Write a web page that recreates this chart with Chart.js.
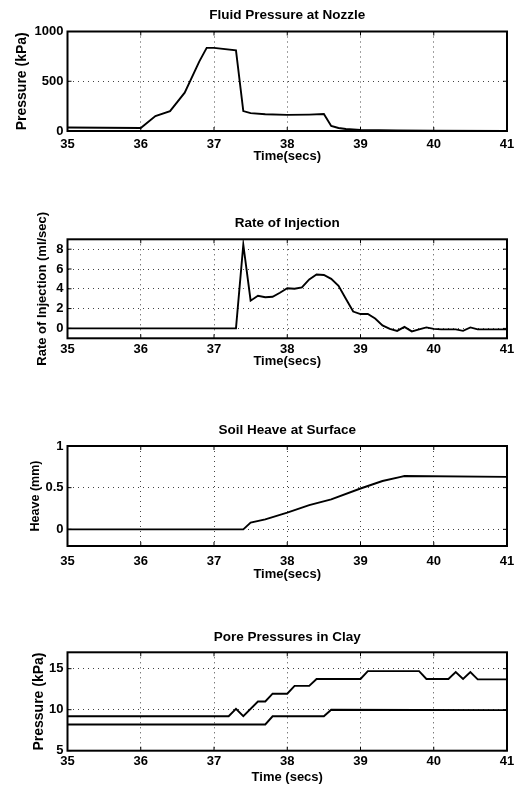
<!DOCTYPE html>
<html><head><meta charset="utf-8">
<script src="https://cdn.jsdelivr.net/npm/chart.js@4/dist/chart.umd.min.js"></script>
<style>
html,body{margin:0;padding:0;background:#fff;width:526px;height:788px;overflow:hidden;}
.p{position:absolute;left:0;width:526px;}
canvas{display:block;}
</style></head><body>
<div class="p" style="top:0px"><canvas id="c1" width="526" height="165"></canvas></div>
<div class="p" style="top:200px"><canvas id="c2" width="526" height="169"></canvas></div>
<div class="p" style="top:405px"><canvas id="c3" width="526" height="177"></canvas></div>
<div class="p" style="top:610px"><canvas id="c4" width="526" height="176"></canvas></div>
<script>
// ---- data ----
const timeTicks = [35, 36, 37, 38, 39, 40, 41];

const nozzleTitle = "Fluid Pressure at Nozzle";
const nozzleYLabel = "Pressure (kPa)";
const nozzleXLabel = "Time(secs)";
const nozzleYTicks = [0, 500, 1000];
const nozzleTime = [35.0, 35.5, 36.0, 36.2, 36.4, 36.6, 36.8, 36.9, 37.0, 37.3, 37.4, 37.5, 37.7, 38.0, 38.3, 38.5, 38.6, 38.7, 38.8, 39.0, 39.5, 40.0, 41.0];
const nozzlePressure = [35, 33, 30, 150, 200, 385, 700, 835, 835, 810, 200, 180, 168, 162, 165, 170, 50, 30, 20, 10, 5, 2, 0];

const injTitle = "Rate of Injection";
const injYLabel = "Rate of Injection (ml/sec)";
const injXLabel = "Time(secs)";
const injYTicks = [0, 2, 4, 6, 8];
const injTime = [35.0, 37.3, 37.4, 37.5, 37.6, 37.7, 37.8, 37.9, 38.0, 38.1, 38.2, 38.3, 38.4, 38.5, 38.6, 38.7, 38.8, 38.9, 39.0, 39.1, 39.2, 39.3, 39.4, 39.5, 39.6, 39.7, 39.8, 39.9, 40.0, 40.1, 40.2, 40.3, 40.4, 40.5, 40.6, 41.0];
const injRate = [0, 0, 8.45, 2.8, 3.3, 3.15, 3.2, 3.6, 4.05, 4.0, 4.15, 4.95, 5.45, 5.4, 5.0, 4.3, 3.0, 1.7, 1.45, 1.45, 1.0, 0.3, -0.05, -0.25, 0.15, -0.3, -0.1, 0.1, -0.05, -0.1, -0.1, -0.1, -0.25, 0.1, -0.1, -0.1];

const heaveTitle = "Soil Heave at Surface";
const heaveYLabel = "Heave (mm)";
const heaveXLabel = "Time(secs)";
const heaveYTicks = [0, 0.5, 1];
const heaveTime = [35.0, 37.0, 37.4, 37.5, 37.7, 38.0, 38.3, 38.6, 39.0, 39.3, 39.55, 39.6, 41.0];
const heaveMm = [0, 0, 0, 0.08, 0.12, 0.2, 0.29, 0.36, 0.49, 0.58, 0.63, 0.64, 0.63];

const poreTitle = "Pore Pressures in Clay";
const poreYLabel = "Pressure (kPa)";
const poreXLabel = "Time (secs)";
const poreYTicks = [5, 10, 15];
const poreUpperTime = [35.0, 37.2, 37.3, 37.4, 37.6, 37.7, 37.8, 38.0, 38.1, 38.3, 38.4, 39.0, 39.1, 39.8, 39.9, 40.2, 40.3, 40.4, 40.5, 40.6, 41.0];
const poreUpper = [9.2, 9.2, 10.1, 9.2, 11.0, 11.0, 11.95, 11.95, 12.9, 12.9, 13.75, 13.75, 14.7, 14.7, 13.75, 13.75, 14.6, 13.75, 14.6, 13.7, 13.7];
const poreLowerTime = [35.0, 37.7, 37.8, 38.5, 38.6, 41.0];
const poreLower = [8.2, 8.2, 9.2, 9.2, 10.0, 9.95];

// ---- helpers ----
const FONT = "'Liberation Sans', Arial, Helvetica, sans-serif";
const pts = (xs, ys) => xs.map((x, i) => ({x: x, y: ys[i]}));

const frame = {
  id: 'frame',
  afterDatasetsDraw(chart) {
    const {ctx, chartArea: a, scales} = chart;
    ctx.save();
    ctx.strokeStyle = '#000';
    ctx.lineWidth = 1;
    ctx.setLineDash([]);
    ctx.beginPath();
    const tl = 4;
    scales.x.ticks.forEach(t => {
      const px = scales.x.getPixelForValue(t.value);
      ctx.moveTo(px, a.bottom); ctx.lineTo(px, a.bottom - tl);
      ctx.moveTo(px, a.top); ctx.lineTo(px, a.top + tl);
    });
    scales.y.ticks.forEach(t => {
      const py = scales.y.getPixelForValue(t.value);
      ctx.moveTo(a.left, py); ctx.lineTo(a.left + tl, py);
      ctx.moveTo(a.right, py); ctx.lineTo(a.right - tl, py);
    });
    ctx.stroke();
    ctx.lineWidth = 2;
    ctx.strokeRect(a.left, a.top, a.right - a.left, a.bottom - a.top);
    ctx.restore();
  }
};
const panelTitle = {
  id: 'panelTitle',
  afterDraw(chart, args, opts) {
    const {ctx, chartArea: a} = chart;
    ctx.save();
    ctx.fillStyle = '#000';
    ctx.font = 'bold 13.5px ' + FONT;
    ctx.textAlign = 'center';
    ctx.textBaseline = 'middle';
    ctx.fillText(opts.text, (a.left + a.right) / 2, a.top - opts.gap);
    ctx.restore();
  }
};

function makePanel(id, cfg) {
  const tickFont = {family: FONT, size: 13, weight: 'bold', lineHeight: 1};
  const xTitleFont = {family: FONT, size: 13, weight: 'bold', lineHeight: 1.2};
  const yTitleFont = {family: FONT, size: cfg.yTitleSize, weight: 'bold', lineHeight: 1.2};
  new Chart(document.getElementById(id), {
    type: 'line',
    data: {
      datasets: cfg.series.map(s => ({
        data: s,
        borderColor: '#000',
        borderWidth: 1.9,
        pointRadius: 0,
        tension: 0,
        fill: false
      }))
    },
    plugins: [frame, panelTitle],
    options: {
      responsive: false,
      animation: false,
      devicePixelRatio: 1,
      layout: {padding: {left: 0, right: 19, top: cfg.padTop, bottom: cfg.padBottom}},
      plugins: {
        legend: {display: false},
        tooltip: {enabled: false},
        panelTitle: {text: cfg.title, gap: cfg.titleGap}
      },
      scales: {
        x: {
          type: 'linear',
          min: 35, max: 41,
          afterBuildTicks: s => { s.ticks = timeTicks.map(v => ({value: v})); },
          afterFit: s => { s.height = cfg.xh; },
          ticks: {font: tickFont, color: '#000', padding: cfg.xTickPad, maxRotation: 0, autoSkip: false, callback: v => String(v)},
          grid: {color: '#444', lineWidth: 1, drawTicks: false},
          border: {display: false, dash: [1, 4]},
          title: {display: true, text: cfg.xLabel, font: xTitleFont, color: '#000', padding: {top: 0, bottom: 0}}
        },
        y: {
          type: 'linear',
          min: cfg.ymin, max: cfg.ymax,
          afterBuildTicks: s => { s.ticks = cfg.yTicks.map(v => ({value: v})); },
          afterFit: s => { s.width = 67.5; },
          ticks: {font: tickFont, color: '#000', padding: 4, callback: v => String(v)},
          grid: {color: '#444', lineWidth: 1, drawTicks: false},
          border: {display: false, dash: [1, 4]},
          title: {display: true, text: cfg.yLabel, font: yTitleFont, color: '#000', padding: {top: cfg.yTitleX - cfg.yTitleSize * 0.6, bottom: 0}}
        }
      }
    }
  });
}

makePanel('c1', {
  title: nozzleTitle, xLabel: nozzleXLabel, yLabel: nozzleYLabel, yTicks: nozzleYTicks,
  ymin: 0, ymax: 1000, series: [pts(nozzleTime, nozzlePressure)],
  padTop: 31.5, padBottom: 0.5, xh: 33.5, xTickPad: 7, yTitleX: 22, yTitleSize: 14, titleGap: 16.5
});
makePanel('c2', {
  title: injTitle, xLabel: injXLabel, yLabel: injYLabel, yTicks: injYTicks,
  ymin: -1, ymax: 9, series: [pts(injTime, injRate)],
  padTop: 39.3, padBottom: 0.2, xh: 30.5, xTickPad: 5, yTitleX: 42, yTitleSize: 13, titleGap: 16
});
makePanel('c3', {
  title: heaveTitle, xLabel: heaveXLabel, yLabel: heaveYLabel, yTicks: heaveYTicks,
  ymin: -0.2, ymax: 1, series: [pts(heaveTime, heaveMm)],
  padTop: 41, padBottom: 0, xh: 36, xTickPad: 8.5, yTitleX: 36, yTitleSize: 12.5, titleGap: 15.5
});
makePanel('c4', {
  title: poreTitle, xLabel: poreXLabel, yLabel: poreYLabel, yTicks: poreYTicks,
  ymin: 5, ymax: 17, series: [pts(poreUpperTime, poreUpper), pts(poreLowerTime, poreLower)],
  padTop: 42.3, padBottom: 0.3, xh: 35, xTickPad: 4.5, yTitleX: 39, yTitleSize: 14, titleGap: 15
});
</script>
</body></html>
